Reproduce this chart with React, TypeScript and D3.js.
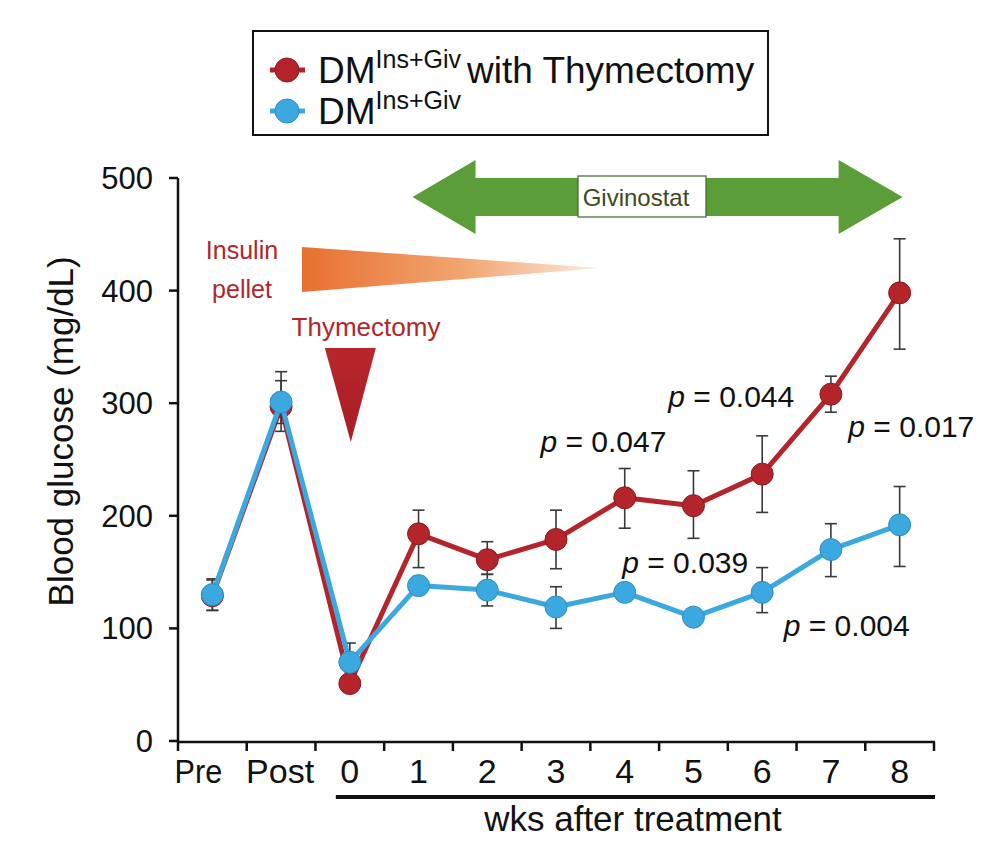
import React from "react";
import * as d3 from "d3";

const categories = ["Pre", "Post", "0", "1", "2", "3", "4", "5", "6", "7", "8"];
const thymMean = [129, 297, 51, 184, 161, 179, 216, 209, 237, 308, 398];
const thymUpper = [143, 320, 56, 205, 177, 205, 242, 240, 271, 324, 446];
const thymLower = [116, 275, 46, 154, 148, 153, 189, 180, 203, 292, 348];
const ctrlMean = [130, 301, 70, 138, 134, 119, 132, 110, 132, 170, 192];
const ctrlUpper = [144, 328, 87, 146, 148, 137, 137, 114, 154, 193, 226];
const ctrlLower = [116, 282, 62, 130, 120, 100, 127, 106, 114, 146, 155];
const yTicks = [0, 100, 200, 300, 400, 500];
// p-value annotations: text, horizontal position in weeks, vertical position in mg/dL
const pTexts = ["0.047", "0.044", "0.017", "0.039", "0.004"];
const pWeeks = [3.69, 5.55, 8.17, 4.88, 7.23];
const pValuesY = [257, 297, 270, 149, 93];

const RED = "#B3252A";
const RED_DARK = "#8E1A1E";
const BLUE = "#3BA8E0";
const BLUE_DARK = "#2E8FC2";
const GREEN = "#5B9D38";
const FONT = "'Liberation Sans', Arial, Helvetica, sans-serif";

const x = d3.scalePoint<string>().domain(categories).range([178, 934]).padding(0.5);
const y = d3.scaleLinear().domain([0, 500]).range([741, 178]);
const step = x.step();
const xWeek = (w: number) => (x("0") as number) + w * step;

function Series({ mean, upper, lower, color, stroke }: any) {
  const line = d3
    .line<number>()
    .x((_, i) => x(categories[i]) as number)
    .y((d) => y(d));
  return (
    <g>
      {mean.map((_: number, i: number) => {
        const cx = x(categories[i]) as number;
        return (
          <g key={"e" + i} stroke="#3a3a3a" strokeWidth={1.6}>
            <line x1={cx} x2={cx} y1={y(upper[i])} y2={y(lower[i])} />
            <line x1={cx - 6} x2={cx + 6} y1={y(upper[i])} y2={y(upper[i])} />
            <line x1={cx - 6} x2={cx + 6} y1={y(lower[i])} y2={y(lower[i])} />
          </g>
        );
      })}
      <path d={line(mean) || ""} fill="none" stroke={color} strokeWidth={5} strokeLinejoin="round" />
      {mean.map((v: number, i: number) => (
        <circle key={"c" + i} cx={x(categories[i])} cy={y(v)} r={11} fill={color} stroke={stroke} strokeWidth={1} />
      ))}
    </g>
  );
}

function PLabel({ text, px, py }: any) {
  return (
    <text x={px} y={py} fontSize={30} fontFamily={FONT} textAnchor="middle" fill="#111">
      <tspan fontStyle="italic">p</tspan>
      <tspan> = {text}</tspan>
    </text>
  );
}

export default function App() {
  const arrowY = 197;
  const aL = (x("1") as number) - 6;
  const aR = (x("8") as number) + 3;
  const arrowPath = `M${aL},${arrowY} L${aL + 63},${arrowY - 37} L${aL + 63},${arrowY - 19} L${aR - 64},${arrowY - 19} L${aR - 64},${arrowY - 37} L${aR},${arrowY} L${aR - 64},${arrowY + 37} L${aR - 64},${arrowY + 19} L${aL + 63},${arrowY + 19} L${aL + 63},${arrowY + 37} Z`;
  const boundaries = d3.range(categories.length + 1).map((i) => 178 + i * step);
  const x0 = x("0") as number;
  return (
    <svg width={1000} height={860} style={{ position: "absolute", left: 0, top: 0, background: "#fff" }}>
      <defs>
        <linearGradient id="ins" x1="0" x2="1" y1="0" y2="0">
          <stop offset="0" stopColor="#E8702F" />
          <stop offset="0.55" stopColor="#F2A673" />
          <stop offset="1" stopColor="#FDEBDD" />
        </linearGradient>
        <linearGradient id="thy" x1="0" x2="0" y1="0" y2="1">
          <stop offset="0" stopColor="#B8262B" />
          <stop offset="1" stopColor="#A81E24" />
        </linearGradient>
      </defs>

      {/* Legend */}
      <rect x={253} y={31} width={515} height={104} fill="#fff" stroke="#111" strokeWidth={2} />
      <line x1={270} x2={305} y1={70} y2={70} stroke={RED} strokeWidth={5} />
      <circle cx={287} cy={70} r={12} fill={RED} stroke={RED_DARK} strokeWidth={1} />
      <text x={318} y={83} fontSize={37} fontFamily={FONT} fill="#111">
        DM
        <tspan fontSize={25} dy={-15}>Ins+Giv</tspan>
        <tspan dy={15} dx={6}>with Thymectomy</tspan>
      </text>
      <line x1={270} x2={305} y1={111} y2={111} stroke={BLUE} strokeWidth={5} />
      <circle cx={287} cy={111} r={12} fill={BLUE} stroke={BLUE_DARK} strokeWidth={1} />
      <text x={318} y={124} fontSize={37} fontFamily={FONT} fill="#111">
        DM
        <tspan fontSize={25} dy={-15}>Ins+Giv</tspan>
      </text>

      {/* Givinostat arrow */}
      <path d={arrowPath} fill={GREEN} />
      <rect x={578} y={176} width={128} height={41} fill="#fff" stroke="#3E6A22" strokeWidth={1.2} />
      <text x={636} y={206} fontSize={24} fontFamily={FONT} textAnchor="middle" fill="#3C4A1C">
        Givinostat
      </text>

      {/* Insulin pellet */}
      <path d="M302,247 L600,268 L302,292 Z" fill="url(#ins)" />
      <text x={242} y={259} fontSize={25} fontFamily={FONT} textAnchor="middle" fill="#B3262B">Insulin</text>
      <text x={242} y={298} fontSize={25} fontFamily={FONT} textAnchor="middle" fill="#B3262B">pellet</text>

      {/* Thymectomy */}
      <text x={366} y={336} fontSize={26} fontFamily={FONT} textAnchor="middle" fill="#B3262B">Thymectomy</text>
      <path d={`M${x0 - 25},348 L${x0 + 26},348 L${x0 + 1},442 Z`} fill="url(#thy)" />

      {/* Axes */}
      <line x1={178} x2={178} y1={y(500)} y2={742} stroke="#111" strokeWidth={2.5} />
      {yTicks.map((t) => (
        <g key={t}>
          <line x1={169} x2={178} y1={y(t)} y2={y(t)} stroke="#111" strokeWidth={2.5} />
          <text x={153} y={y(t) + 11} fontSize={31} fontFamily={FONT} textAnchor="end" fill="#111">
            {t}
          </text>
        </g>
      ))}
      <text
        transform={`translate(73,${y(275)}) rotate(-90)`}
        fontSize={35}
        fontFamily={FONT}
        textAnchor="middle"
        fill="#111"
      >
        Blood glucose (mg/dL)
      </text>

      <line x1={177} x2={935} y1={742} y2={742} stroke="#111" strokeWidth={2.5} />
      {boundaries.map((b, i) => (
        <line key={i} x1={b} x2={b} y1={742} y2={751} stroke="#111" strokeWidth={2.5} />
      ))}
      {categories.map((c) => {
        const off = c === "Pre" ? -14 : c === "Post" ? -1 : 0;
        const sx = c === "Pre" ? 0.9 : 1;
        return (
          <text
            key={c}
            transform={`translate(${(x(c) as number) + off},783) scale(${sx},1)`}
            fontSize={34}
            fontFamily={FONT}
            textAnchor="middle"
            fill="#111"
          >
            {c}
          </text>
        );
      })}
      <line x1={x0 - 14} x2={935} y1={797} y2={797} stroke="#111" strokeWidth={4} />
      <text x={633} y={831} fontSize={35} fontFamily={FONT} textAnchor="middle" fill="#111">
        wks after treatment
      </text>

      {/* Data */}
      <Series mean={thymMean} upper={thymUpper} lower={thymLower} color={RED} stroke={RED_DARK} />
      <Series mean={ctrlMean} upper={ctrlUpper} lower={ctrlLower} color={BLUE} stroke={BLUE_DARK} />

      {pTexts.map((t, i) => (
        <PLabel key={t} text={t} px={xWeek(pWeeks[i])} py={y(pValuesY[i])} />
      ))}
    </svg>
  );
}
